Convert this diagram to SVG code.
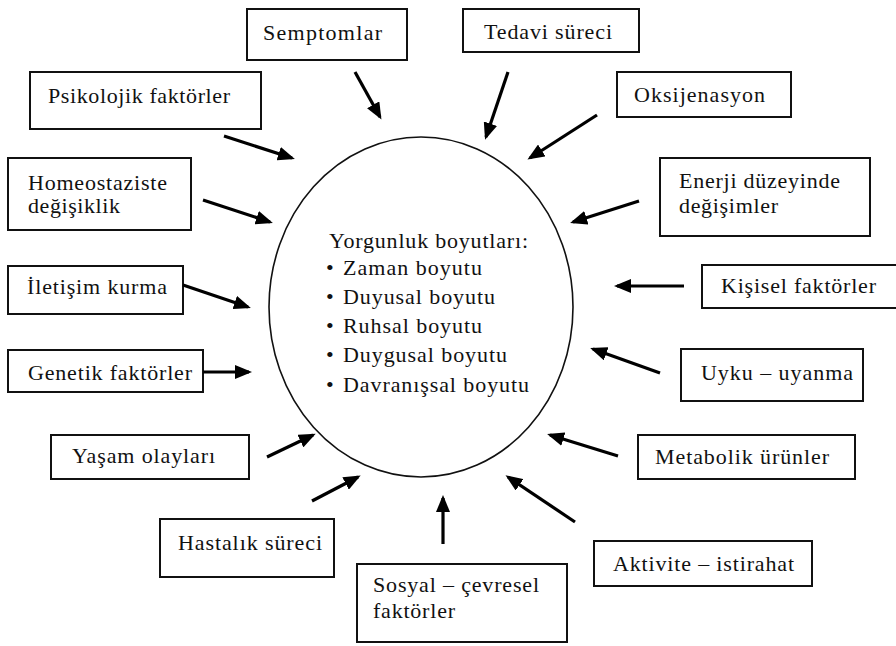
<svg xmlns="http://www.w3.org/2000/svg" width="896" height="646" viewBox="0 0 896 646">
<defs>
<style>
.box{fill:#fff;stroke:#111;stroke-width:2}
.t{font-family:"Liberation Serif","Times New Roman",serif;font-size:22px;fill:#111}
.arr{stroke:#000;stroke-width:3.2;fill:none;marker-end:url(#ah)}
.ell{fill:#fff;stroke:#111;stroke-width:1.6}
</style>
<marker id="ah" markerUnits="userSpaceOnUse" markerWidth="17" markerHeight="14" refX="14" refY="7" orient="auto">
<path d="M0,0 L17,7 L0,14 z" fill="#000"/>
</marker>
</defs>
<rect width="896" height="646" fill="#fff"/>
<g id="center">
<ellipse class="ell" cx="421" cy="307" rx="152" ry="170"/>
<text class="t" x="329" y="248" textLength="199" lengthAdjust="spacing">Yorgunluk boyutları:</text>
<text class="t" x="326" y="275">•</text><text class="t" x="343" y="275" textLength="139" lengthAdjust="spacing">Zaman boyutu</text>
<text class="t" x="326" y="304">•</text><text class="t" x="343" y="304" textLength="152" lengthAdjust="spacing">Duyusal boyutu</text>
<text class="t" x="326" y="333">•</text><text class="t" x="343" y="333" textLength="139" lengthAdjust="spacing">Ruhsal boyutu</text>
<text class="t" x="326" y="362">•</text><text class="t" x="343" y="362" textLength="164" lengthAdjust="spacing">Duygusal boyutu</text>
<text class="t" x="326" y="392">•</text><text class="t" x="343" y="392" textLength="186" lengthAdjust="spacing">Davranışsal boyutu</text>
</g>
<g id="semptomlar"><rect class="box" x="247" y="9" width="160" height="51"/><text class="t" x="263" y="40" textLength="119" lengthAdjust="spacing">Semptomlar</text></g>
<g id="tedavi"><rect class="box" x="463" y="9" width="176" height="43"/><text class="t" x="484" y="39" textLength="128" lengthAdjust="spacing">Tedavi süreci</text></g>
<g id="psikolojik"><rect class="box" x="30" y="72" width="231" height="57"/><text class="t" x="48" y="103" textLength="182" lengthAdjust="spacing">Psikolojik faktörler</text></g>
<g id="oksijenasyon"><rect class="box" x="617" y="72" width="174" height="45"/><text class="t" x="634" y="102" textLength="131" lengthAdjust="spacing">Oksijenasyon</text></g>
<g id="homeostaziste"><rect class="box" x="8" y="158" width="183" height="72"/><text class="t" x="28" y="190" textLength="139" lengthAdjust="spacing">Homeostaziste</text><text class="t" x="28" y="213" textLength="92" lengthAdjust="spacing">değişiklik</text></g>
<g id="enerji"><rect class="box" x="660" y="158" width="210" height="78"/><text class="t" x="679" y="188" textLength="161" lengthAdjust="spacing">Enerji düzeyinde</text><text class="t" x="679" y="213" textLength="99" lengthAdjust="spacing">değişimler</text></g>
<g id="iletisim"><rect class="box" x="8" y="266" width="175" height="48"/><text class="t" x="27" y="294" textLength="140" lengthAdjust="spacing">İletişim kurma</text></g>
<g id="kisisel"><rect class="box" x="702" y="265" width="200" height="43"/><text class="t" x="721" y="293" textLength="155" lengthAdjust="spacing">Kişisel faktörler</text></g>
<g id="genetik"><rect class="box" x="8" y="350" width="195" height="42"/><text class="t" x="28" y="380" textLength="164" lengthAdjust="spacing">Genetik faktörler</text></g>
<g id="uyku"><rect class="box" x="681" y="349" width="182" height="52"/><text class="t" x="701" y="380" textLength="152" lengthAdjust="spacing">Uyku – uyanma</text></g>
<g id="yasam"><rect class="box" x="51" y="435" width="198" height="44"/><text class="t" x="72" y="463" textLength="143" lengthAdjust="spacing">Yaşam olayları</text></g>
<g id="metabolik"><rect class="box" x="638" y="435" width="217" height="44"/><text class="t" x="655" y="464" textLength="174" lengthAdjust="spacing">Metabolik ürünler</text></g>
<g id="hastalik"><rect class="box" x="160" y="519" width="174" height="58"/><text class="t" x="178" y="550" textLength="144" lengthAdjust="spacing">Hastalık süreci</text></g>
<g id="aktivite"><rect class="box" x="594" y="541" width="218" height="45"/><text class="t" x="613" y="571" textLength="181" lengthAdjust="spacing">Aktivite – istirahat</text></g>
<g id="sosyal"><rect class="box" x="357" y="564" width="210" height="78"/><text class="t" x="373" y="592" textLength="166" lengthAdjust="spacing">Sosyal – çevresel</text><text class="t" x="373" y="618" textLength="82" lengthAdjust="spacing">faktörler</text></g>
<g id="connectors">
<line class="arr" x1="355" y1="72" x2="380" y2="117"/>
<line class="arr" x1="508" y1="72" x2="486" y2="137"/>
<line class="arr" x1="597" y1="115" x2="530" y2="158"/>
<line class="arr" x1="639" y1="201" x2="573" y2="222"/>
<line class="arr" x1="684" y1="286" x2="617" y2="286"/>
<line class="arr" x1="660" y1="373" x2="593" y2="349"/>
<line class="arr" x1="618" y1="456" x2="550" y2="435"/>
<line class="arr" x1="575" y1="522" x2="508" y2="477"/>
<line class="arr" x1="443" y1="544" x2="443" y2="498"/>
<line class="arr" x1="312" y1="501" x2="358" y2="477"/>
<line class="arr" x1="267" y1="457" x2="313" y2="435"/>
<line class="arr" x1="203" y1="372" x2="249" y2="372"/>
<line class="arr" x1="183" y1="285" x2="248" y2="307"/>
<line class="arr" x1="203" y1="200" x2="270" y2="222"/>
<line class="arr" x1="224" y1="136" x2="292" y2="158"/>
</g>
</svg>
